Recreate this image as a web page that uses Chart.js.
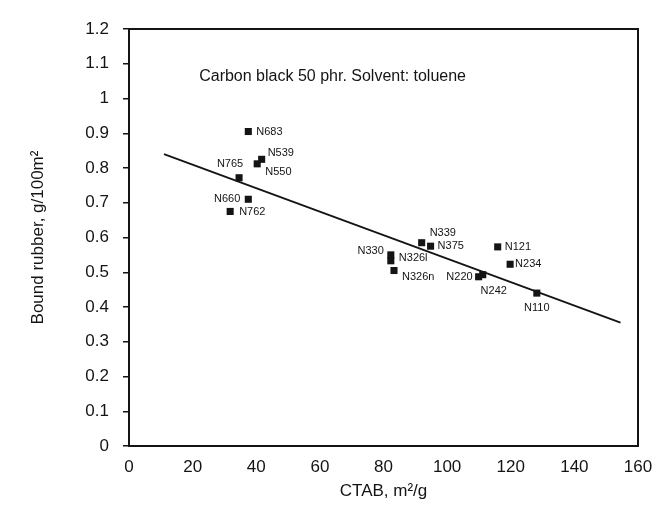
<!DOCTYPE html>
<html>
<head>
<meta charset="utf-8">
<script src="https://cdn.jsdelivr.net/npm/chart.js@4.4.1/dist/chart.umd.min.js"></script>
<style>
  html, body { margin: 0; padding: 0; background: #fff; }
  #wrap { width: 656px; height: 508px; }
</style>
</head>
<body>
<div id="wrap"><canvas id="chart" width="656" height="508"></canvas></div>
<script>
// carbon black grades, CTAB surface area (m2/g) and bound rubber (g/100m2)
const grades = ["N683", "N539", "N550", "N765", "N660", "N762", "N339", "N375",
  "N330", "N326l", "N326n", "N220", "N242", "N121", "N234", "N110"];
const ctab = [37.5, 41.7, 40.3, 34.6, 37.5, 31.8, 92.0, 94.8,
  82.3, 82.3, 83.3, 109.9, 111.2, 115.9, 119.8, 128.2];
const boundRubber = [0.905, 0.825, 0.812, 0.772, 0.71, 0.675, 0.585, 0.575,
  0.55, 0.533, 0.505, 0.487, 0.493, 0.573, 0.523, 0.44];

// fitted trend line end points
const fitX = [11, 154.5];
const fitY = [0.84, 0.355];

const xTicks = [0, 20, 40, 60, 80, 100, 120, 140, 160];
const yTicks = [0, 0.1, 0.2, 0.3, 0.4, 0.5, 0.6, 0.7, 0.8, 0.9, 1, 1.1, 1.2];

// where each grade label sits relative to its marker: [dx, dy, align]
const labelPlace = {
  N683: [8, 0, "left"], N539: [6, -6, "left"], N550: [8, 8, "left"],
  N765: [-9, -14, "center"], N660: [-8, 0, "right"], N762: [9, 1, "left"],
  N339: [8, -10, "left"], N375: [7, 0, "left"], N330: [-7, -4, "right"],
  N326l: [8, -3, "left"], N326n: [8, 6, "left"], N220: [-6, 0, "right"],
  N242: [11, 16, "center"], N121: [7, 0, "left"], N234: [5, 0, "left"],
  N110: [0, 15, "center"]
};

const FONT = "'Liberation Sans', Arial, Helvetica, sans-serif";
const INK = "#141414";

const gradeLabels = {
  id: "gradeLabels",
  afterDatasetsDraw(chart) {
    const { ctx, scales } = chart;
    ctx.save();
    ctx.fillStyle = INK;
    ctx.font = "11px " + FONT;
    ctx.textBaseline = "middle";
    grades.forEach((g, i) => {
      const [dx, dy, align] = labelPlace[g] || [7, 0, "left"];
      ctx.textAlign = align;
      ctx.fillText(g, scales.x.getPixelForValue(ctab[i]) + dx, scales.y.getPixelForValue(boundRubber[i]) + dy);
    });
    // caption inside the plot
    ctx.font = "16px " + FONT;
    ctx.textAlign = "center";
    ctx.fillText("Carbon black 50 phr. Solvent: toluene", scales.x.getPixelForValue(64), scales.y.getPixelForValue(1.062));
    // frame around plot area
    const a = chart.chartArea;
    ctx.strokeStyle = INK;
    ctx.lineWidth = 2;
    ctx.strokeRect(a.left, a.top, a.right - a.left, a.bottom - a.top);
    ctx.restore();
  }
};

new Chart(document.getElementById("chart"), {
  type: "scatter",
  data: {
    datasets: [
      {
        label: "Bound rubber",
        data: ctab.map((x, i) => ({ x: x, y: boundRubber[i] })),
        pointStyle: "rect",
        pointRadius: 5,
        backgroundColor: INK,
        borderColor: INK,
        borderWidth: 0
      },
      {
        label: "Fit",
        type: "line",
        data: fitX.map((x, i) => ({ x: x, y: fitY[i] })),
        borderColor: INK,
        borderWidth: 1.8,
        pointRadius: 0,
        fill: false
      }
    ]
  },
  options: {
    responsive: false,
    animation: false,
    layout: { padding: { left: 0, right: 18, top: 29, bottom: 0 } },
    plugins: {
      legend: { display: false },
      tooltip: { enabled: false }
    },
    scales: {
      x: {
        type: "linear",
        min: 0,
        max: 160,
        afterBuildTicks: (s) => { s.ticks = xTicks.map(v => ({ value: v })); },
        afterFit: (s) => { s.height = 62; s.paddingRight = 0; },
        grid: { display: false, drawTicks: false },
        border: { display: false },
        ticks: { color: INK, font: { family: FONT, size: 17 }, padding: 11, maxRotation: 0 },
        title: {
          display: true,
          text: "CTAB, m²/g",
          color: INK,
          font: { family: FONT, size: 17 },
          padding: { top: 0, bottom: 6 }
        }
      },
      y: {
        type: "linear",
        min: 0,
        max: 1.2,
        afterBuildTicks: (s) => { s.ticks = yTicks.map(v => ({ value: v })); },
        afterFit: (s) => { s.width = 129; },
        grid: { drawOnChartArea: false, drawTicks: true, tickLength: 6, color: INK, lineWidth: 1.5 },
        border: { display: false },
        ticks: { color: INK, font: { family: FONT, size: 17 }, padding: 14, callback: (v) => String(v) },
        title: {
          display: true,
          text: "Bound rubber, g/100m²",
          color: INK,
          font: { family: FONT, size: 17 },
          padding: { top: 28, bottom: 0 }
        }
      }
    }
  },
  plugins: [gradeLabels]
});
</script>
</body>
</html>
